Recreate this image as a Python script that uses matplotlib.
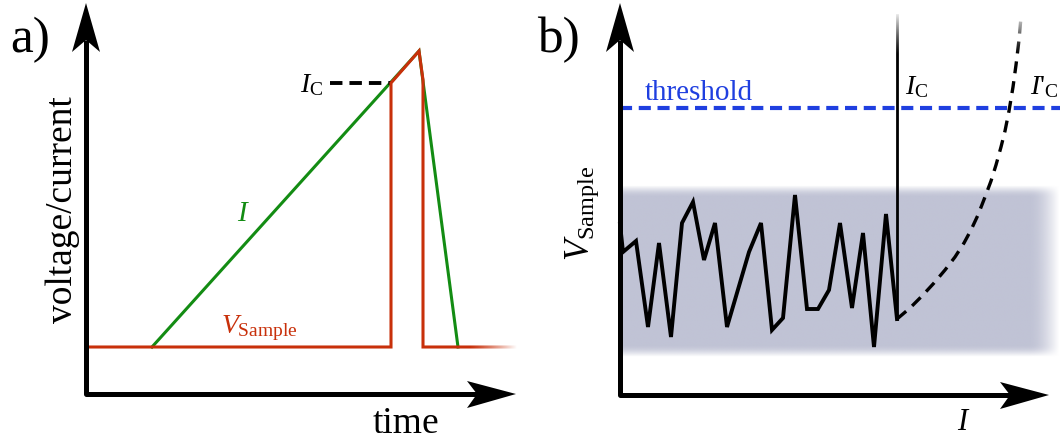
import numpy as np
import matplotlib.pyplot as plt
import matplotlib.colors as mcolors
from matplotlib.patches import Polygon

plt.rcParams['font.family'] = ['Liberation Serif', 'DejaVu Serif']
plt.rcParams['mathtext.fontset'] = 'custom'
plt.rcParams['mathtext.rm'] = 'Liberation Serif'
plt.rcParams['mathtext.it'] = 'Liberation Serif:italic'

# a) current ramp and sample voltage over time (arbitrary units)
v_time = [0, 305, 305, 333, 337, 337, 381]
v_sample = [47, 47, 311, 343, 314, 47, 47]
v_tail = 429            # baseline fades out up to here
i_time = [66, 333, 372]
i_ramp = [47, 343, 47]
ic_level = 311
ic_dash_from = 244

# b) sample voltage vs current: noise below I_C, then the rising flank
noise_i = [0, 3, 16, 28, 39, 51, 62, 73, 84, 95, 107, 129, 141, 152, 163,
           175, 187, 198, 209, 220, 232, 243, 254, 266, 277]
noise_v = [171, 143, 154, 68, 152, 58, 172, 193, 135, 172, 68, 143, 172, 65, 77,
           200, 86, 86, 105, 172, 87, 162, 48, 181, 76]
flank_i = [277, 290, 302, 314, 325, 335, 344, 351, 358, 365, 371, 376, 381,
           385, 389, 393, 396, 399, 401]
flank_v = [76, 87, 99, 112, 125, 138, 152, 165, 180, 198, 214, 230, 248,
           264, 284, 308, 330, 355, 378]
ic_b = 277
ic_top = 380
threshold = 287
band_lo, band_hi = 38, 210

RED = '#c8300a'
GREEN = '#138c13'
BLUE = '#1f3fe0'
BAND = '#c0c3d5'


def draw_axes(ax, x_end, y_end):
    # thick L-shaped axes with notched arrow heads
    ax.plot([0, 0, x_end - 38], [y_end - 37, 0, 0], color='black', lw=3.6,
            solid_joinstyle='round', solid_capstyle='butt', zorder=6)
    ax.add_patch(Polygon([(0, y_end), (-14, y_end - 49), (0, y_end - 37),
                          (14, y_end - 49)], closed=True, color='black', lw=0, zorder=6))
    ax.add_patch(Polygon([(x_end, 0), (x_end - 49, 13), (x_end - 39, 0),
                          (x_end - 49, -14)], closed=True, color='black', lw=0, zorder=6))


def white_fade(ax, x0, x1, y0, y1, horizontal):
    # white overlay whose opacity rises from 0 to 1 along x (or y)
    ramp = np.linspace(0, 1, 64) ** 1.2
    img = np.ones((64, 64, 4))
    img[..., 3] = ramp[None, :] if horizontal else ramp[:, None]
    ax.imshow(img, extent=(x0, x1, y0, y1), origin='lower', aspect='auto',
              interpolation='bilinear', zorder=5)


fig = plt.figure(figsize=(10.6, 4.41), dpi=100)

# ---------------- panel a ----------------
ax = fig.add_axes([0, 0, 0.5, 1])
ax.set_xlim(-86, 444)
ax.set_ylim(-47, 394)
ax.set_axis_off()

ax.plot(i_time, i_ramp, color=GREEN, lw=2.2, zorder=3, solid_joinstyle='miter')
ax.plot(v_time + [v_tail], v_sample + [v_sample[-1]], color=RED, lw=2.2,
        zorder=4, solid_joinstyle='miter')
white_fade(ax, v_time[-1] + 2, v_tail + 2, v_sample[-1] - 8, v_sample[-1] + 8, True)
ax.plot([ic_dash_from, v_time[1]], [ic_level, ic_level], color='black', lw=2.8,
        dashes=(3.2, 1.8), zorder=3)

draw_axes(ax, 430, 391)

ax.text(-76, 342, 'a)', fontsize=37, ha='left', va='baseline')
ax.text(-23, 184, 'voltage/current', fontsize=27, rotation=90, ha='center', va='center')
ax.text(320, -39, 'time', fontsize=27, ha='center', va='baseline')
ax.text(157, 180, '$I$', fontsize=21, color=GREEN, ha='center', va='center')
ax.text(173, 66, r'$V_\mathrm{Sample}$', fontsize=20, color=RED, ha='center', va='center')
ax.text(226, 309, r'$I_\mathrm{C}$', fontsize=20, ha='center', va='center')

# ---------------- panel b ----------------
bx = fig.add_axes([0.5, 0, 0.5, 1])
bx.set_xlim(-90, 440)
bx.set_ylim(-46, 395)
bx.set_axis_off()

# shaded noise band with soft edges
ny, nx = 200, 300
edge_y = np.clip(np.minimum(np.arange(ny), ny - 1 - np.arange(ny)) / (ny * 0.07), 0, 1)
edge_x = np.clip((nx - 1 - np.arange(nx)) / (nx * 0.07), 0, 1)
band = np.zeros((ny, nx, 4))
band[..., :3] = mcolors.to_rgb(BAND)
band[..., 3] = np.outer(np.sin(edge_y * np.pi / 2), np.sin(edge_x * np.pi / 2))
bx.imshow(band, extent=(0, 440, band_lo, band_hi), origin='lower', aspect='auto',
          interpolation='bilinear', zorder=1)

bx.plot([0, 440], [threshold, threshold], color=BLUE, lw=3.0, dashes=(2.9, 1.6), zorder=2)
bx.plot(noise_i, noise_v, color='black', lw=2.8, zorder=3, solid_joinstyle='miter')
bx.plot([ic_b, ic_b], [noise_v[-1], ic_top], color='black', lw=2.0, zorder=3)
bx.plot(flank_i, flank_v, color='black', lw=2.4, dashes=(3.6, 2.4), zorder=3)
white_fade(bx, 250, 440, 340, 384, False)

draw_axes(bx, 429, 392)

bx.text(-83, 343, 'b)', fontsize=37, ha='left', va='baseline')
bx.text(25, 295, 'threshold', fontsize=21, color=BLUE, ha='left', va='baseline')
bx.text(-38, 182, r'$V_\mathrm{Sample}$', fontsize=25, rotation=90, ha='center', va='center')
bx.text(297, 308, r'$I_\mathrm{C}$', fontsize=20, ha='center', va='center')
bx.text(424, 308, r"$I\text{'}_\mathrm{C}$", fontsize=20, ha='center', va='center')
bx.text(344, -28, '$I$', fontsize=22, ha='center', va='center')

fig.savefig('out.png', dpi=100)
